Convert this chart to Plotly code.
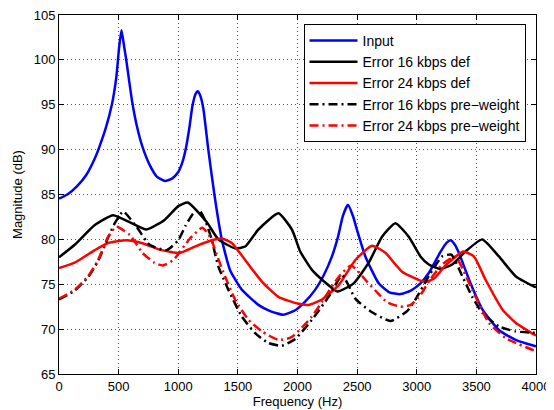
import plotly.graph_objects as go

# ---- data ----
input_f = [0, 70, 150, 230, 300, 330, 390, 443, 480, 505, 524, 545, 566, 590, 614, 650, 700,
           760, 820, 889, 950, 1000, 1035, 1065, 1095, 1118, 1145, 1163, 1185, 1210, 1252, 1303,
           1365, 1434, 1533, 1672, 1771, 1880, 1981, 2060, 2149, 2220, 2289, 2340, 2380, 2423,
           2465, 2500, 2569, 2681, 2770, 2863, 2950, 3031, 3101, 3199, 3250, 3283, 3320, 3353,
           3451, 3550, 3689, 3829, 3983, 4000]
input_db = [84.55, 85.0, 85.9, 87.2, 89.0, 90.0, 92.3, 95.0, 98.0, 101.5, 103.3, 101.6, 99.8,
            97.5, 95.3, 92.8, 90.3, 88.3, 87.0, 86.5, 86.8, 87.5, 88.6, 90.2, 92.6, 94.8, 96.2,
            96.5, 96.0, 94.6, 90.0, 85.0, 80.0, 76.6, 74.4, 72.7, 72.0, 71.6, 72.1, 73.0, 74.4,
            76.0, 78.1, 80.3, 82.6, 83.85, 82.6, 81.0, 78.1, 75.1, 74.1, 73.9, 74.3, 75.1, 76.25,
            78.6, 79.6, 79.9, 79.4, 78.5, 75.1, 72.2, 69.9, 68.8, 68.15, 68.1]

err16_f = [0, 132, 300, 454, 608, 734, 888, 1000, 1080, 1240, 1336, 1476, 1561, 1672, 1840,
           1953, 2023, 2121, 2233, 2335, 2471, 2597, 2709, 2821, 2933, 3031, 3101, 3199, 3297,
           3409, 3550, 3689, 3829, 3983, 4000]
err16_db = [78.0, 79.4, 81.6, 82.7, 81.8, 81.1, 82.2, 83.7, 84.1, 81.9, 80.0, 79.0, 79.2, 81.1,
            82.9, 81.1, 78.65, 76.6, 75.2, 74.2, 75.1, 77.4, 80.3, 81.8, 80.3, 78.1, 77.2, 76.7,
            77.2, 78.65, 80.0, 78.1, 75.9, 74.75, 74.7]

err24_f = [0, 132, 300, 412, 566, 692, 860, 1014, 1140, 1280, 1365, 1449, 1561, 1701, 1840,
           2000, 2093, 2205, 2345, 2485, 2625, 2737, 2877, 3031, 3087, 3150, 3241, 3390, 3479,
           3577, 3718, 3829, 3983, 4000]
err24_db = [76.8, 77.4, 78.8, 79.6, 79.9, 79.6, 78.8, 78.5, 79.2, 79.9, 80.1, 79.6, 77.7, 75.3,
            73.6, 72.85, 72.7, 73.3, 74.9, 77.7, 79.3, 78.5, 76.4, 75.4, 75.3, 75.7, 77.1, 78.65,
            78.1, 75.5, 72.2, 70.7, 69.4, 69.3]

pw16_f = [0, 132, 244, 328, 412, 468, 538, 650, 760, 902, 1000, 1060, 1126, 1175, 1230, 1280,
          1336, 1420, 1533, 1645, 1756, 1869, 1981, 2121, 2261, 2375, 2485, 2611, 2779, 2919,
          2989, 3101, 3213, 3290, 3382, 3465, 3550, 3689, 3829, 3970, 4000]
pw16_db = [73.3, 74.3, 75.8, 77.6, 80.2, 81.8, 83.1, 81.4, 79.4, 78.8, 79.9, 81.5, 82.9, 83.3,
           82.0, 80.0, 77.0, 74.4, 71.4, 69.55, 68.45, 68.15, 68.9, 71.05, 73.6, 76.0, 73.4,
           72.0, 70.9, 72.0, 73.3, 75.9, 78.1, 78.3, 75.9, 73.6, 71.8, 70.3, 69.75, 69.6, 69.6]

pw24_f = [0, 132, 244, 328, 412, 482, 594, 700, 800, 870, 958, 1098, 1200, 1252, 1294, 1330,
          1392, 1476, 1588, 1701, 1840, 1950, 2121, 2233, 2345, 2450, 2583, 2681, 2751, 2863,
          2950, 3031, 3101, 3213, 3325, 3395, 3493, 3605, 3745, 3857, 3970, 4000]
pw24_db = [73.4, 74.4, 75.9, 77.7, 80.3, 81.4, 80.5, 78.5, 77.4, 77.1, 77.7, 80.1, 81.3, 80.6,
           79.4, 78.0, 75.9, 73.3, 71.05, 69.75, 68.8, 69.1, 71.4, 73.6, 75.8, 77.1, 75.3,
           73.9, 73.0, 72.5, 72.7, 73.8, 75.3, 77.2, 78.1, 76.4, 73.6, 70.7, 69.0, 68.3, 67.7,
           67.6]

x_ticks = [0, 500, 1000, 1500, 2000, 2500, 3000, 3500, 4000]
y_ticks = [65, 70, 75, 80, 85, 90, 95, 100, 105]

# ---- figure ----
DASHDOT = "9px,4px,2px,4px"
series = [
    ("Input", input_f, input_db, "#0000ff", "solid"),
    ("Error 16 kbps def", err16_f, err16_db, "#000000", "solid"),
    ("Error 24 kbps def", err24_f, err24_db, "#ff0000", "solid"),
    ("Error 16 kbps pre\u2212weight", pw16_f, pw16_db, "#000000", DASHDOT),
    ("Error 24 kbps pre\u2212weight", pw24_f, pw24_db, "#ff0000", DASHDOT),
]

fig = go.Figure()
for name, f, db, color, dash in series:
    fig.add_trace(go.Scatter(x=f, y=db, mode="lines", name=name,
                             line=dict(color=color, width=2.5, dash=dash, shape="spline",
                                       smoothing=0.5)))

font = "Liberation Sans, Arial, Helvetica, sans-serif"
axis_common = dict(
    showline=True, linecolor="black", linewidth=1, mirror="ticks",
    ticks="inside", ticklen=5, tickcolor="black", tickwidth=1,
    showgrid=True, gridcolor="#555555", gridwidth=1, griddash="1px,3px",
    zeroline=False, automargin=False, ticklabeloverflow="allow",
    tickfont=dict(family=font, size=13, color="black"),
)

fig.update_xaxes(range=[0, 4000], tickvals=x_ticks, ticktext=[str(v) for v in x_ticks],
                 title=dict(text="Frequency (Hz)", font=dict(family=font, size=13, color="black"),
                            standoff=3),
                 **axis_common)
fig.update_yaxes(range=[65, 105], tickvals=y_ticks, ticktext=[str(v) for v in y_ticks],
                 title=dict(text="Magnitude (dB)", font=dict(family=font, size=13, color="black"),
                            standoff=8),
                 **axis_common)

# the page body adds an 8px margin, so the figure is sized to fit inside the window
fig.update_layout(
    width=546, height=402,
    margin=dict(l=51, r=18, t=7, b=36, autoexpand=False),
    paper_bgcolor="white", plot_bgcolor="white",
    font=dict(family=font, size=13, color="black"),
    showlegend=True,
    legend=dict(x=0.978, y=0.975, xanchor="right", yanchor="top",
                bgcolor="white", bordercolor="black", borderwidth=1,
                font=dict(family=font, size=14, color="black"),
                tracegroupgap=0, itemwidth=48),
)

fig.write_html("out.html")
